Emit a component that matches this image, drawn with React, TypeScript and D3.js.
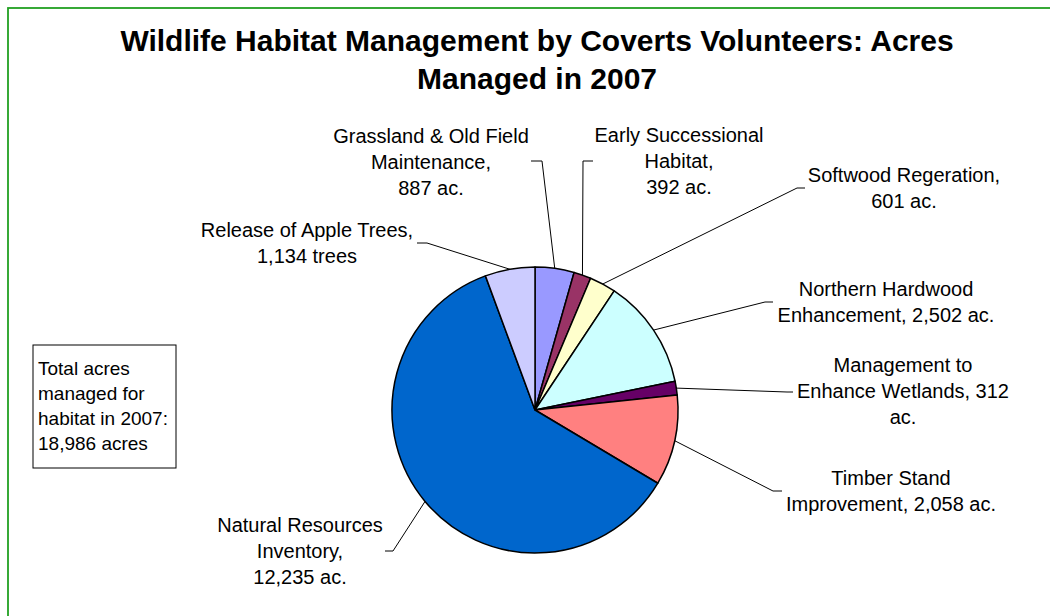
import React from "react";
import * as d3 from "d3";

const categories = [
  "Grassland & Old Field Maintenance",
  "Early Successional Habitat",
  "Softwood Regeration",
  "Northern Hardwood Enhancement",
  "Management to Enhance Wetlands",
  "Timber Stand Improvement",
  "Natural Resources Inventory",
  "Release of Apple Trees",
];
const values = [887, 392, 601, 2502, 312, 2058, 12235, 1134];
const colors = ["#9999FF", "#993366", "#FFFFCC", "#CCFFFF", "#660066", "#FF8080", "#0066CC", "#CCCCFF"];
const labelTemplates = [
  ["Grassland & Old Field", "Maintenance,", "{v} ac."],
  ["Early Successional", "Habitat,", "{v} ac."],
  ["Softwood Regeration,", "{v} ac."],
  ["Northern Hardwood", "Enhancement, {v} ac."],
  ["Management to", "Enhance Wetlands, {v}", "ac."],
  ["Timber Stand", "Improvement, {v} ac."],
  ["Natural Resources", "Inventory,", "{v} ac."],
  ["Release of Apple Trees,", "{v} trees"],
];
const titleLines = ["Wildlife Habitat Management by Coverts Volunteers: Acres", "Managed in 2007"];
const noteLines = ["Total acres", "managed for", "habitat in 2007:", "18,986 acres"];

// layout (label anchor positions, leader elbows)
const labelLayout = [
  { x: 431, y: 143, elbow: [542, 161], end: [531, 161] },
  { x: 679, y: 142, elbow: [583, 161], end: [593, 161] },
  { x: 904, y: 182, elbow: [797, 188], end: [805, 188] },
  { x: 886, y: 296, elbow: [765, 302], end: [773, 302] },
  { x: 903, y: 372, elbow: [787, 392], end: [793, 392] },
  { x: 891, y: 485, elbow: [773, 491], end: [782, 491] },
  { x: 300, y: 532, elbow: [393, 551], end: [385, 551] },
  { x: 307, y: 237, elbow: [427, 243], end: [417, 243] },
];

const W = 1050;
const H = 616;
const CX = 535;
const CY = 410;
const R = 143;
const FONT = "'Liberation Sans', Arial, sans-serif";

export default function App() {
  const fmt = d3.format(",");
  const pie = d3
    .pie<number>()
    .sort(null)
    .value((d) => d)
    .startAngle(0)
    .endAngle(2 * Math.PI);
  const arcs = pie(values);
  const arc = d3.arc<d3.PieArcDatum<number>>().innerRadius(0).outerRadius(R);
  const line = d3.line();

  return (
    <svg
      width={W}
      height={H}
      style={{ position: "absolute", left: 0, top: 0, background: "#fff" }}
      fontFamily={FONT}
    >
      <rect x={0} y={0} width={W} height={H} fill="#fff" />
      <rect x={8} y={8} width={W + 20} height={H + 20} fill="none" stroke="#22A022" strokeWidth={1.8} />
      {titleLines.map((t, i) => (
        <text
          key={i}
          x={537}
          y={51 + i * 38}
          textAnchor="middle"
          fontSize={30}
          fontWeight="bold"
          fill="#000"
        >
          {t}
        </text>
      ))}
      <g transform={`translate(${CX},${CY})`}>
        {arcs.map((a, i) => (
          <path key={i} d={arc(a) || ""} fill={colors[i]} stroke="#000" strokeWidth={1.5} strokeLinejoin="round" />
        ))}
      </g>
      {arcs.map((a, i) => {
        const mid = (a.startAngle + a.endAngle) / 2;
        const p: [number, number] = [CX + R * Math.sin(mid), CY - R * Math.cos(mid)];
        const L = labelLayout[i];
        return (
          <path
            key={i}
            d={line([p, L.elbow as [number, number], L.end as [number, number]]) || ""}
            fill="none"
            stroke="#000"
            strokeWidth={1}
          />
        );
      })}
      {labelTemplates.map((lines, i) => {
        const L = labelLayout[i];
        return (
          <text key={i} x={L.x} y={L.y} textAnchor="middle" fontSize={20} fill="#000">
            {lines.map((ln, j) => (
              <tspan key={j} x={L.x} y={L.y + j * 26}>
                {ln.replace("{v}", fmt(values[i]))}
              </tspan>
            ))}
          </text>
        );
      })}
      <rect x={33} y={345} width={143} height={123} fill="#fff" stroke="#000" strokeWidth={1} />
      <text fontSize={19} fill="#000">
        {noteLines.map((t, i) => (
          <tspan key={i} x={38} y={375 + i * 25}>
            {t}
          </tspan>
        ))}
      </text>
    </svg>
  );
}
